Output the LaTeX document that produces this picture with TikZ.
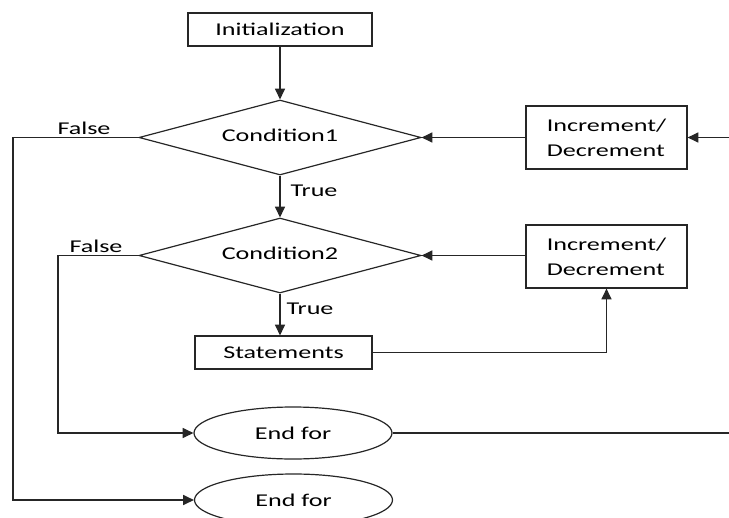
\documentclass[tikz,border=0pt]{standalone}
\usepackage{fontspec}
\setmainfont{Carlito}[FakeStretch=1.45]
\usetikzlibrary{shapes.geometric,arrows.meta,calc}

\begin{document}
\begin{tikzpicture}[x=0.75pt,y=-0.75pt,
  every node/.style={font=\fontsize{13.5}{18.75}\selectfont, text=black},
  flow/.style={draw=black!85, line width=0.9pt},
  arr/.style={flow, -{Triangle[length=8pt,width=7.5pt]}},
  block/.style={draw=black!85, line width=0.9pt, inner sep=0pt},
  decision/.style={block, diamond, aspect=3.76, minimum width=211.5pt, minimum height=56.25pt},
  terminal/.style={block, ellipse, minimum width=148.5pt, minimum height=39pt},
  incbox/.style={block, align=left, minimum width=120.75pt, minimum height=47.25pt}]
\clip (0,0) rectangle (729,518);
% blocks
\node [block, minimum width=138pt, minimum height=24.75pt] (init) at (280,29.5) {Initialization};
\node [decision] (cond1) at (280,137.5) {\raisebox{3pt}{Condition1}};
\node [incbox] (inc1) at (606.5,137.5) {Increment/\\Decrement};
\node [decision] (cond2) at (280,255.5) {\raisebox{3pt}{Condition2}};
\node [incbox] (inc2) at (606.5,256.5) {Increment/\\Decrement};
\node [block, minimum width=132.75pt, minimum height=24.75pt] (stmt) at (283.5,352.5) {Statements};
\node [terminal] (end1) at (293,433) {End for};
\node [terminal] (end2) at (293.5,500) {End for};
% labels
\node (false1) at (84,128) {False};
\node (false2) at (96,246) {False};
\node (true1) at (314,191) {True};
\node (true2) at (310,309) {True};
% free ends
\coordinate (r1) at (729,137.5);
\coordinate (r2) at (729,433);
\coordinate (l1) at (13,137.5);
\coordinate (l2) at (58,255.5);
% connectors
\draw [arr] (init) -- (cond1);
\draw [arr] (cond1) -- (cond2);
\draw [arr] (r1) -- (inc1);
\draw [arr] (inc1) -- (cond1.east);
\draw [arr] (inc2.west |- cond2.east) -- (cond2.east);
\draw [arr] (cond2) -- (cond2.south |- stmt.north);
\draw [arr] (stmt) -| (inc2);
\draw [flow] (end1) -- (r2);
\draw [arr] (cond2.west) -- (l2) |- (end1);
\draw [arr] (cond1.west) -- (l1) |- (end2);
\end{tikzpicture}
\end{document}
